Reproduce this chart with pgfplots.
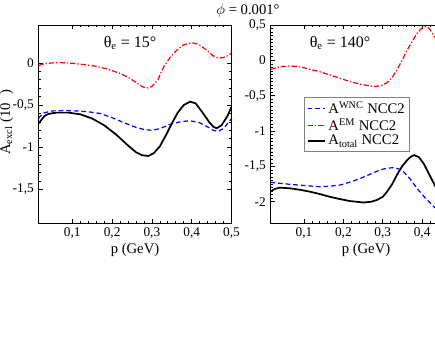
\documentclass[border=0pt]{standalone}
\usepackage{fontspec}
\setmainfont{Liberation Serif}
\usepackage{pgfplots}
\pgfplotsset{compat=1.18}
\pgfplotsset{
  myax/.style={
    scale only axis, anchor=south west,
    height=148.5pt,
    xmin=0.015, xmax=0.5,
    tick align=inside, xtick pos=both, ytick pos=both,
    xtick={0.1,0.2,0.3,0.4,0.5},
    minor x tick num=4,
    major tick length=3pt, minor tick length=1.6pt,
    every tick/.style={black, line width=0.5pt},
    axis line style={line width=0.6pt},
    ticklabel style={font=\fontsize{10}{11}\selectfont},
    /pgf/number format/use comma,
    /pgf/number format/assume math mode=true,
    xlabel={p (GeV)},
    xlabel style={font=\fontsize{11}{12}\selectfont, yshift=3.5pt},
  },
  wnc/.style={blue, line width=0.9pt, dash pattern=on 3.5pt off 2.2pt},
  em/.style={red, line width=0.9pt, dash pattern=on 4pt off 1.5pt on 1pt off 1.5pt},
  tot/.style={black, line width=1.3pt},
}
\begin{document}
\begin{tikzpicture}
\path[use as bounding box] (0,0) rectangle (326.25pt,252pt);
\clip (0,0) rectangle (326.25pt,252pt);
\begin{axis}[myax, at={(28.875pt,84.75pt)}, width=144.75pt,
  ymin=-1.9, ymax=0.45, ytick={-1.5,-1,-0.5,0}, minor y tick num=4]
\addplot[wnc] coordinates {(0.015,-0.66) (0.02,-0.63) (0.03,-0.59) (0.05,-0.57) (0.08,-0.565) (0.11,-0.57) (0.14,-0.58) (0.17,-0.60) (0.2,-0.65) (0.23,-0.71) (0.26,-0.765) (0.28,-0.79) (0.30,-0.80) (0.32,-0.78) (0.345,-0.73) (0.37,-0.70) (0.395,-0.686) (0.42,-0.71) (0.44,-0.76) (0.455,-0.80) (0.465,-0.815) (0.48,-0.78) (0.5,-0.66)};
\addplot[em] coordinates {(0.015,-0.03) (0.03,-0.01) (0.05,0.0) (0.07,0.005) (0.1,-0.005) (0.13,-0.02) (0.16,-0.04) (0.19,-0.075) (0.22,-0.125) (0.24,-0.17) (0.26,-0.23) (0.275,-0.28) (0.287,-0.30) (0.30,-0.28) (0.315,-0.2) (0.329,-0.05) (0.345,0.06) (0.362,0.15) (0.38,0.215) (0.40,0.24) (0.418,0.22) (0.438,0.15) (0.452,0.09) (0.467,0.055) (0.48,0.065) (0.49,0.085) (0.5,0.114)};
\addplot[tot] coordinates {(0.015,-0.72) (0.02,-0.69) (0.03,-0.63) (0.04,-0.605) (0.06,-0.59) (0.09,-0.59) (0.12,-0.61) (0.15,-0.66) (0.18,-0.74) (0.21,-0.85) (0.24,-0.98) (0.26,-1.06) (0.275,-1.095) (0.291,-1.105) (0.305,-1.07) (0.32,-0.99) (0.335,-0.86) (0.35,-0.72) (0.365,-0.59) (0.38,-0.5) (0.396,-0.46) (0.41,-0.48) (0.429,-0.60) (0.445,-0.71) (0.455,-0.76) (0.463,-0.776) (0.475,-0.74) (0.49,-0.63) (0.5,-0.52)};
\end{axis}
\begin{axis}[myax, at={(202.875pt,84.75pt)}, width=143.25pt,
  ymin=-2.3, ymax=0.5, ytick={-2,-1.5,-1,-0.5,0,0.5}, minor y tick num=9,
  legend style={at={(rel axis cs:0.177,0.638)}, anchor=north west, draw=gray, line width=0.6pt,
    font=\fontsize{11}{12}\selectfont, row sep=-2pt, inner sep=1.5pt},
  legend cell align=left,
  legend image code/.code={\draw[#1] (0pt,0pt) -- (13pt,0pt);}]
\addplot[wnc] coordinates {(0.015,-1.725) (0.04,-1.74) (0.065,-1.753) (0.1,-1.77) (0.141,-1.787) (0.165,-1.78) (0.192,-1.763) (0.218,-1.72) (0.243,-1.67) (0.268,-1.61) (0.293,-1.55) (0.31,-1.525) (0.327,-1.518) (0.34,-1.535) (0.353,-1.575) (0.37,-1.68) (0.387,-1.81) (0.41,-1.96) (0.434,-2.09) (0.46,-2.18) (0.5,-2.25)};
\addlegendentry{A\textsuperscript{WNC} NCC2}
\addplot[em] coordinates {(0.015,-0.127) (0.04,-0.09) (0.065,-0.08) (0.09,-0.09) (0.115,-0.127) (0.14,-0.16) (0.166,-0.207) (0.19,-0.25) (0.217,-0.30) (0.245,-0.34) (0.277,-0.37) (0.295,-0.36) (0.311,-0.316) (0.324,-0.24) (0.336,-0.137) (0.349,0.0) (0.362,0.146) (0.375,0.27) (0.387,0.38) (0.398,0.45) (0.406,0.476) (0.414,0.47) (0.421,0.43) (0.434,0.31) (0.45,0.18) (0.47,0.08) (0.5,0.05)};
\addlegendentry{A\textsuperscript{EM} NCC2}
\addplot[tot] coordinates {(0.015,-1.857) (0.025,-1.82) (0.039,-1.80) (0.065,-1.81) (0.09,-1.83) (0.115,-1.857) (0.14,-1.89) (0.166,-1.93) (0.19,-1.96) (0.217,-1.99) (0.251,-2.01) (0.27,-2.0) (0.285,-1.975) (0.30,-1.93) (0.311,-1.857) (0.324,-1.75) (0.336,-1.62) (0.349,-1.5) (0.362,-1.41) (0.372,-1.36) (0.38,-1.34) (0.392,-1.37) (0.404,-1.46) (0.421,-1.645) (0.434,-1.787) (0.45,-1.9) (0.47,-1.97) (0.5,-2.0)};
\addlegendentry{A\textsubscript{total} NCC2}
\end{axis}
\node[font=\fontsize{11}{12}\selectfont] at (186pt,243.5pt) {$\phi$ = 0.001°};
\node[font=\fontsize{12}{13}\selectfont] at (97.5pt,219.75pt) {θ\textsubscript{e} = 15°};
\node[font=\fontsize{12}{13}\selectfont] at (255pt,219.75pt) {θ\textsubscript{e} = 140°};
\node[rotate=90, anchor=base, font=\fontsize{11}{12}\selectfont] at (7.5pt,160.5pt) {A\textsubscript{excl} (10\raisebox{0.75em}{\footnotesize -5})};
\end{tikzpicture}
\end{document}
